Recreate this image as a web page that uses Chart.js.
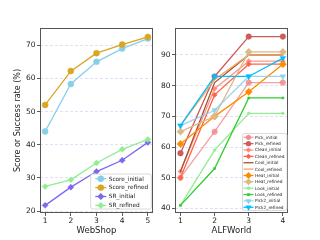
<!DOCTYPE html>
<html><head><meta charset="utf-8">
<script src="https://cdn.jsdelivr.net/npm/chart.js@4.4.0/dist/chart.umd.min.js"></script>
<style>
body{margin:0;background:#fff;width:320px;height:240px;overflow:hidden}
#w1{position:absolute;left:0;top:0;width:160px;height:240px}
#w2{position:absolute;left:160px;top:0;width:160px;height:240px}
</style></head><body>
<div id="w1"><canvas id="c1" width="160" height="240"></canvas></div>
<div id="w2"><canvas id="c2" width="160" height="240"></canvas></div>
<script>
// ---- data: WebShop ----
const webshopX = [1, 2, 3, 4, 5];
const scoreInitial = [44, 58.3, 65, 69, 72];
const scoreRefined = [52, 62.2, 67.6, 70.2, 72.5];
const srInitial = [21.7, 27.2, 31.9, 35.3, 40.7];
const srRefined = [27.4, 29.4, 34.5, 38.6, 41.6];
const webshopYTicks = [20, 30, 40, 50, 60, 70];

// ---- data: ALFWorld ----
const alfX = [1, 2, 3, 4];
const pickInitial = [50, 65, 81, 81];
const pickRefined = [58, 83, 96, 96];
const cleanInitial = [52, 79, 88, 88];
const cleanRefined = [50, 77, 87, 87];
const coolInitial = [52, 81, 90, 90];
const coolRefined = [67, 82, 90, 90];
const heatInitial = [61, 70, 78, 87];
const heatRefined = [65, 70, 91, 91];
const lookInitial = [41, 59, 71, 71];
const lookRefined = [41, 53, 76, 76];
const pick2Initial = [67, 72, 83, 83];
const pick2Refined = [67, 83, 83, 89];
const alfYTicks = [40, 50, 60, 70, 80, 90];

const FONT = "'DejaVu Sans', sans-serif";
const pts = (xs, ys) => xs.map((x, i) => ({x, y: ys[i]}));

function ds(label, xs, ys, color, style, r, bw, idx, extra) {
  return Object.assign({
    label, data: pts(xs, ys), borderColor: color, backgroundColor: color,
    pointBackgroundColor: color, pointBorderColor: color, pointBorderWidth: 0.5,
    pointStyle: style, pointRadius: r, borderWidth: bw, order: -idx, tension: 0
  }, extra || {});
}

const boxPlugin = {
  id: 'box',
  afterDatasetsDraw(chart) {
    const {ctx, chartArea: a} = chart;
    ctx.save();
    ctx.strokeStyle = '#555';
    ctx.lineWidth = 1;
    ctx.strokeRect(a.left + 0.5, a.top + 0.5, a.right - a.left - 1, a.bottom - a.top - 1);
    ctx.restore();
  }
};

const legendPlugin = {
  id: 'ilegend',
  afterDraw(chart, args, o) {
    const ctx = chart.ctx;
    const n = chart.data.datasets.length;
    ctx.save();
    ctx.fillStyle = 'rgba(255,255,255,0.85)';
    ctx.strokeStyle = '#d0d0d0';
    ctx.lineWidth = 0.8;
    ctx.beginPath();
    if (ctx.roundRect) ctx.roundRect(o.bx, o.by, o.bw, o.bh, 2); else ctx.rect(o.bx, o.by, o.bw, o.bh);
    ctx.fill(); ctx.stroke();
    chart.data.datasets.forEach((d, i) => {
      const y = o.y0 + i * o.dy;
      ctx.globalAlpha = 1;
      ctx.strokeStyle = d.borderColor;
      ctx.lineWidth = d.borderWidth;
      ctx.beginPath(); ctx.moveTo(o.hx0, y); ctx.lineTo(o.hx1, y); ctx.stroke();
      if (d.pointRadius > 0) {
        ctx.fillStyle = d.pointBackgroundColor;
        ctx.strokeStyle = d.pointBorderColor;
        Chart.helpers.drawPoint(ctx, {pointStyle: d.pointStyle, rotation: d.pointRotation || 0,
          radius: d.pointRadius * o.ms, borderWidth: 0.5}, (o.hx0 + o.hx1) / 2, y);
      }
      ctx.fillStyle = '#222';
      ctx.font = o.fs + 'px ' + FONT;
      ctx.textBaseline = 'middle';
      ctx.textAlign = 'left';
      ctx.fillText(d.label, o.tx, y + 0.3);
    });
    ctx.restore();
  }
};

function scales(xTicks, xmin, xmax, yTicks, ymin, ymax, yw, xTitle, yTitle) {
  const gridCol = 'rgba(140,140,230,0.35)';
  return {
    x: {
      type: 'linear', min: xmin, max: xmax,
      afterBuildTicks: s => { s.ticks = xTicks.map(v => ({value: v})); },
      afterFit: s => { s.height = 27; },
      grid: {drawOnChartArea: false, drawTicks: true, tickLength: 3, tickColor: '#333', tickWidth: 0.8},
      border: {display: false},
      ticks: {font: {family: FONT, size: 7.5}, color: '#222', padding: 1, maxRotation: 0, autoSkip: false,
        callback: v => String(v)},
      title: {display: true, text: xTitle, font: {family: FONT, size: 8.5}, color: '#222', padding: {top: 0, bottom: 4}}
    },
    y: {
      type: 'linear', min: ymin, max: ymax,
      afterBuildTicks: s => { s.ticks = yTicks.map(v => ({value: v})); },
      afterFit: s => { s.width = yw; },
      grid: {drawOnChartArea: true, color: gridCol, lineWidth: 0.8, drawTicks: true, tickLength: 3,
        tickColor: '#333', tickWidth: 0.8, tickBorderDash: []},
      border: {display: false, dash: [3, 2]},
      ticks: {font: {family: FONT, size: 7.5}, color: '#222', padding: 1.5, autoSkip: false,
        callback: v => String(v)},
      title: yTitle ? {display: true, text: yTitle, font: {family: FONT, size: 8}, color: '#222', padding: {top: 13, bottom: 0}} : {display: false}
    }
  };
}

const baseOpts = {
  responsive: false, animation: false, devicePixelRatio: 1,
  plugins: {legend: {display: false}, tooltip: {enabled: false}},
  elements: {line: {borderCapStyle: 'round'}}
};

// WebShop chart
new Chart(document.getElementById('c1'), {
  type: 'line',
  data: {datasets: [
    ds('Score_initial', webshopX, scoreInitial, '#87CEEB', 'circle', 3, 1.3, 0),
    ds('Score_refined', webshopX, scoreRefined, '#DAA520', 'circle', 3, 1.3, 1),
    ds('SR_initial', webshopX, srInitial, '#7B68EE', 'rectRot', 3, 1.3, 2),
    ds('SR_refined', webshopX, srRefined, '#90EE90', 'rectRot', 3, 1.3, 3)
  ]},
  options: Object.assign({}, baseOpts, {
    layout: {padding: {left: 0, top: 28, right: 7, bottom: 0}},
    scales: scales(webshopX, 0.8, 5.2, webshopYTicks, 19.4, 75.2, 40, 'WebShop', 'Score or Success rate (%)'),
    plugins: Object.assign({}, baseOpts.plugins, {
      ilegend: {bx: 90.7, by: 174, bw: 60.6, bh: 35, y0: 178.7, dy: 8.9, hx0: 95.3, hx1: 106.3, tx: 108.7, fs: 5.8, ms: 0.85}
    })
  }),
  plugins: [boxPlugin, legendPlugin]
});

// ALFWorld chart
const tri = {pointRotation: 180};
new Chart(document.getElementById('c2'), {
  type: 'line',
  data: {datasets: [
    ds('Pick_initial', alfX, pickInitial, 'rgba(240,128,128,0.75)', 'circle', 2.8, 1.3, 0),
    ds('Pick_refined', alfX, pickRefined, '#CD5C5C', 'circle', 2.8, 1.3, 1),
    ds('Clean_initial', alfX, cleanInitial, 'rgba(250,128,114,0.8)', 'rectRot', 2.6, 1.3, 2),
    ds('Clean_refined', alfX, cleanRefined, '#FF6347', 'rectRot', 2.6, 1.3, 3),
    ds('Cool_initial', alfX, coolInitial, '#A0522D', 'circle', 0, 1.3, 4),
    ds('Cool_refined', alfX, coolRefined, '#F4A460', 'circle', 0, 1.3, 5),
    ds('Heat_initial', alfX, heatInitial, '#FF8C00', 'rectRot', 3.6, 1.3, 6),
    ds('Heat_refined', alfX, heatRefined, '#DEB887', 'rectRot', 3.6, 1.3, 7),
    ds('Look_initial', alfX, lookInitial, '#90EE90', 'circle', 1.4, 1.3, 8),
    ds('Look_refined', alfX, lookRefined, '#32CD32', 'rect', 1.4, 1.3, 9),
    ds('Pick2_initial', alfX, pick2Initial, 'rgba(135,206,235,0.85)', 'triangle', 3.2, 1.3, 10, tri),
    ds('Pick2_refined', alfX, pick2Refined, '#00BFFF', 'triangle', 3.2, 1.3, 11, tri)
  ]},
  options: Object.assign({}, baseOpts, {
    layout: {padding: {left: 0, top: 28, right: 32, bottom: 0}},
    scales: scales(alfX, 0.84, 4.15, alfYTicks, 38.5, 98.8, 15, 'ALFWorld', null),
    plugins: Object.assign({}, baseOpts.plugins, {
      ilegend: {bx: 82.5, by: 133.5, bw: 44.5, bh: 77, y0: 137.3, dy: 6.36, hx0: 83.5, hx1: 93.5, tx: 95, fs: 4.3, ms: 0.7}
    })
  }),
  plugins: [boxPlugin, legendPlugin]
});
</script>
</body></html>
